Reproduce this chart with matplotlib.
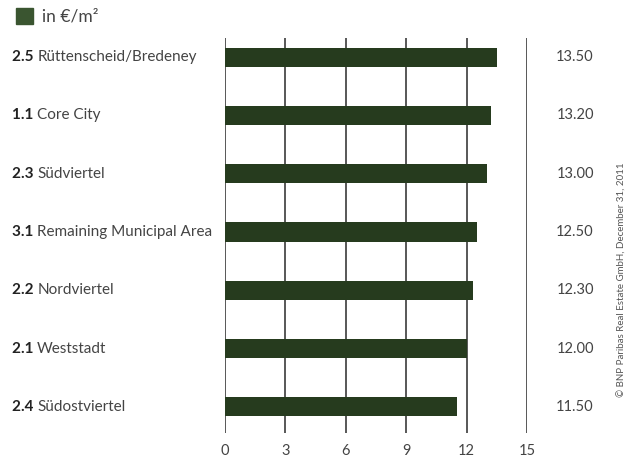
import matplotlib
matplotlib.use("Agg")
import matplotlib.pyplot as plt
from matplotlib.transforms import blended_transform_factory

codes = ["2.5", "1.1", "2.3", "3.1", "2.2", "2.1", "2.4"]
districts = ["Rüttenscheid/Bredeney", "Core City", "Südviertel",
             "Remaining Municipal Area", "Nordviertel", "Weststadt", "Südostviertel"]
rents = [13.50, 13.20, 13.00, 12.50, 12.30, 12.00, 11.50]
x_ticks = [0, 3, 6, 9, 12, 15]
unit_label = "in €/m²"
source_note = "© BNP Paribas Real Estate GmbH, December 31, 2011"

bar_color = "#263b1e"
text_color = "#444444"
grid_color = "#4a4a4a"
plt.rcParams["font.family"] = ["Lato", "DejaVu Sans"]

W, H = 635, 461
fig = plt.figure(figsize=(W / 100, H / 100), dpi=100)
ax = fig.add_axes([225 / W, 1 - 433 / H, (527 - 225) / W, (433 - 38) / H])

ypos = list(range(len(rents)))
ax.set_xlim(0, 15)
ax.set_ylim(6.446, -0.326)

for t in x_ticks:
    ax.axvline(t, color=grid_color, lw=1.3, zorder=1)
ax.barh(ypos, rents, height=0.326, color=bar_color, zorder=2)

for s in ax.spines.values():
    s.set_visible(False)
ax.set_yticks([])
ax.set_xticks(x_ticks)
ax.tick_params(axis="x", length=0, pad=8, labelsize=10.5, labelcolor="#444444")

trans = blended_transform_factory(fig.transFigure, ax.transData)
for y, code, name, v in zip(ypos, codes, districts, rents):
    t = ax.text(12 / W, y, code + " ", transform=trans, ha="left", va="center",
                fontsize=11, fontweight="bold", color="#222222")
    ax.annotate(name, xy=(1, 0.5), xycoords=t, ha="left", va="center",
                fontsize=11, color=text_color)
    ax.text(575 / W, y, f"{v:.2f}", transform=trans, ha="center", va="center",
            fontsize=10.5, color=text_color)

# legend swatch and unit
fig.patches.append(plt.Rectangle((16 / W, 1 - 24 / H), 17 / W, 16 / H,
                                 transform=fig.transFigure, color="#3a5530"))
fig.text(42 / W, 1 - 16 / H, unit_label, ha="left", va="center",
         fontsize=12.5, color=text_color)

fig.text(622 / W, 1 - 280 / H, source_note, rotation=90, ha="center", va="center",
         fontsize=7, color="#555555")

fig.savefig("out.png", dpi=100, facecolor="white")
